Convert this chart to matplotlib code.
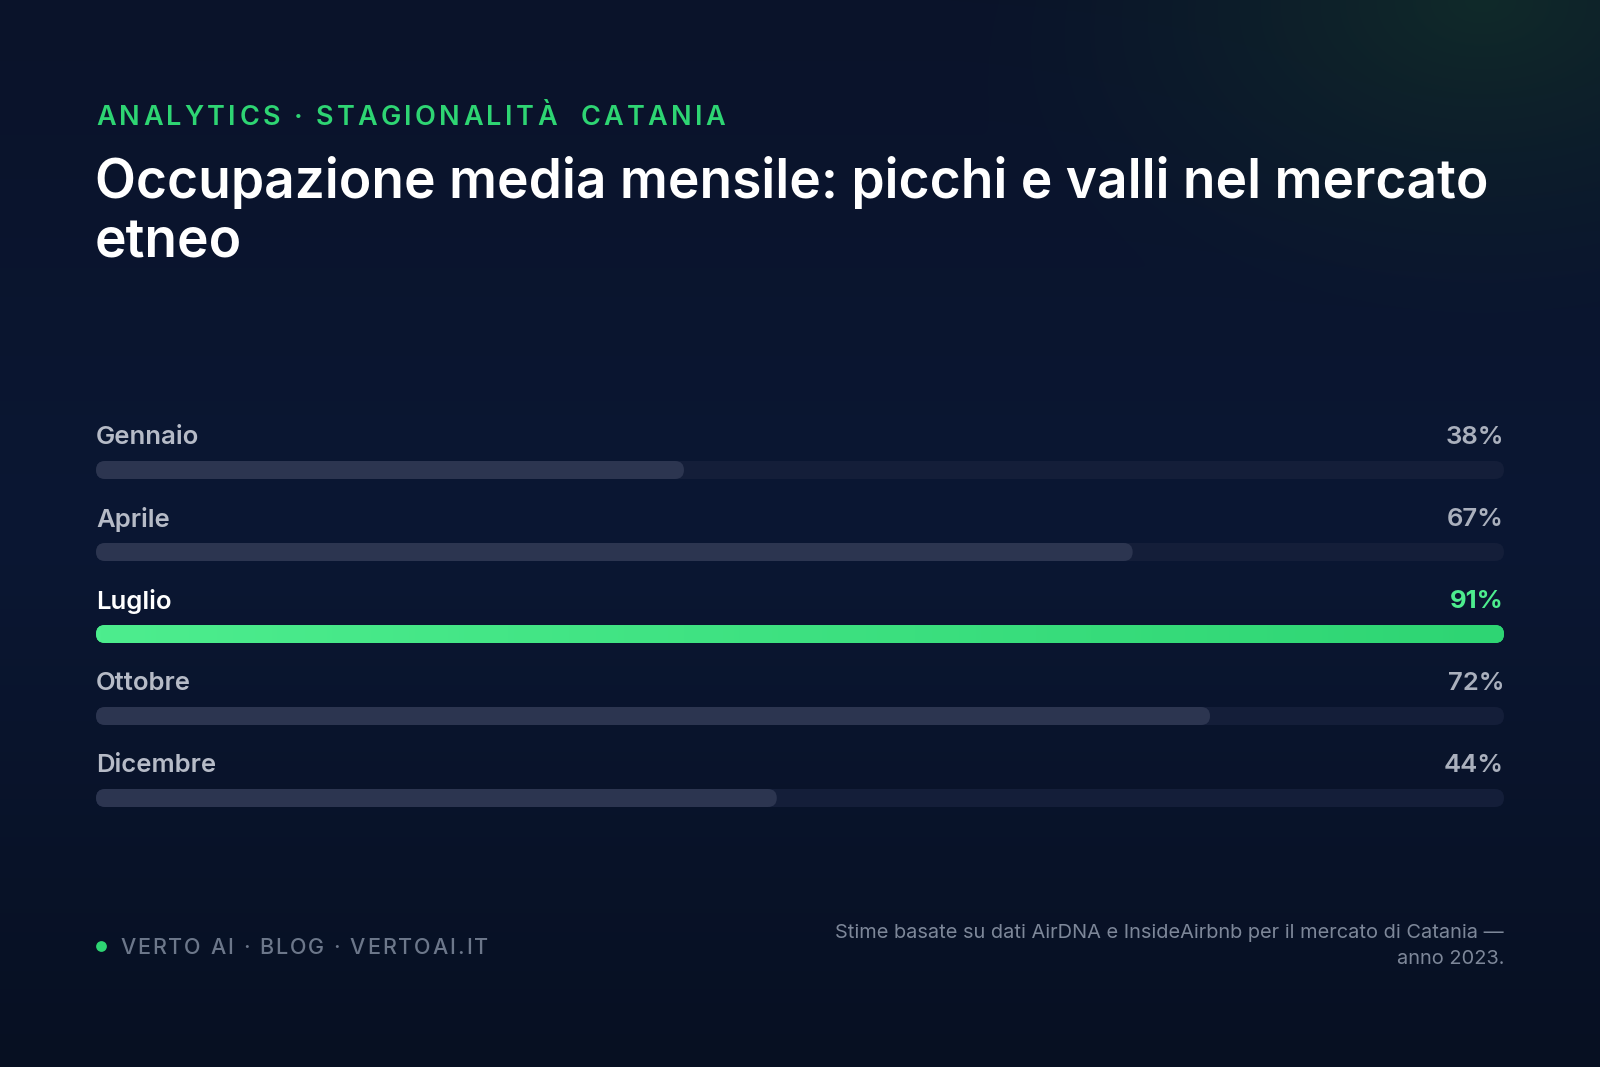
import numpy as np
import matplotlib
matplotlib.use("Agg")
import matplotlib.pyplot as plt
from matplotlib.patches import FancyBboxPatch
from matplotlib.font_manager import FontProperties

# ---- data ----
months = ["Gennaio", "Aprile", "Luglio", "Ottobre", "Dicembre"]
occupancy = [38, 67, 91, 72, 44]
value_labels = ["38%", "67%", "91%", "72%", "44%"]
highlight = "Luglio"

kicker = "ANALYTICS · STAGIONALITÀ  CATANIA"
title_lines = ["Occupazione media mensile: picchi e valli nel mercato", "etneo"]
footer_left = "VERTO AI · BLOG · VERTOAI.IT"
footer_right = ["Stime basate su dati AirDNA e InsideAirbnb per il mercato di Catania —",
                "anno 2023."]

W, H = 1600, 1067
FONT = "Inter"
GREEN = "#2ed573"
GREEN_L = "#4ded8e"

fig = plt.figure(figsize=(W / 100, H / 100), dpi=100)
fig.patch.set_facecolor("#0a1530")

bg = fig.add_axes([0, 0, 1, 1])
bg.set_xlim(0, W)
bg.set_ylim(H, 0)
bg.axis("off")

top = np.array([0x0a, 0x13, 0x2a]) / 255
mid = np.array([0x0b, 0x17, 0x33]) / 255
bot = np.array([0x07, 0x10, 0x22]) / 255
ys = np.linspace(0, 1, 300)[:, None]
grad = np.where(ys < 0.5, top + (mid - top) * (ys / 0.5), mid + (bot - mid) * ((ys - 0.5) / 0.5))
yy, xx = np.mgrid[0:300, 0:400]
px = xx / 400 * W
py = yy / 300 * H
base = np.repeat(grad[:, None, :], 400, axis=1).reshape(300, 400, 3)
d = np.sqrt(((px - 1480) / 540) ** 2 + ((py - 0) / 340) ** 2)
glow = np.clip(1 - d, 0, 1) ** 1.4
glow_col = np.array([0x10, 0x2a, 0x29]) / 255
img = base * (1 - glow[..., None]) + glow_col * glow[..., None]
bg.imshow(img, extent=[0, W, H, 0], aspect="auto", zorder=0, interpolation="bicubic")

renderer = fig.canvas.get_renderer()


def tracked_text(ax, x, y, s, size, color, weight="normal", tracking=0.0, va="baseline"):
    prop = FontProperties(family=FONT, size=size, weight=weight)
    for i, ch in enumerate(s):
        if ch == " ":
            continue
        w = renderer.get_text_width_height_descent(s[:i], prop, ismath=False)[0] if i > 0 else 0
        ax.text(x + w + i * tracking, y, ch, fontproperties=prop, color=color, va=va, ha="left")


# kicker
tracked_text(bg, 96, 125, kicker, 19.5, GREEN, weight="semibold", tracking=3.3)

# title
for i, line in enumerate(title_lines):
    bg.text(95, 198 + i * 60, line, fontsize=38.4, fontweight="semibold", family=FONT,
            color="white", va="baseline", ha="left")

# ---- bars ----
L, R = 96, 1504
row0, step = 470, 82
ax_top, ax_bot = 380, 840
ax = fig.add_axes([L / W, 1 - ax_bot / H, (R - L) / W, (ax_bot - ax_top) / H])
ax.axis("off")
vmax = max(occupancy)
ax.set_xlim(0, vmax)
ax.set_ylim((ax_bot - row0) / step, (ax_top - row0) / step)

px_x = (R - L) / vmax
px_y = step
bar_h_px = 18
bh = bar_h_px / px_y
rad = (bar_h_px / 2) / px_x
aspect = px_x / px_y

for i, (m, v, lab) in enumerate(zip(months, occupancy, value_labels)):
    track = FancyBboxPatch((0, i - bh / 2), vmax, bh,
                           boxstyle=f"round,pad=0,rounding_size={rad}",
                           mutation_aspect=aspect, fc="#141e39", ec="none", zorder=1)
    ax.add_patch(track)
    hi = (m == highlight)
    bar = FancyBboxPatch((0, i - bh / 2), v, bh,
                         boxstyle=f"round,pad=0,rounding_size={rad}",
                         mutation_aspect=aspect, fc=GREEN if hi else "#2c3550", ec="none", zorder=2)
    ax.add_patch(bar)
    if hi:
        g = np.linspace(0, 1, 256)[None, :, None]
        c0 = np.array([0x4d, 0xed, 0x8e]) / 255
        c1 = np.array([0x2e, 0xd5, 0x73]) / 255
        gim = c0 + (c1 - c0) * g
        im = ax.imshow(gim, extent=[0, v, i + bh / 2, i - bh / 2], aspect="auto", zorder=3)
        im.set_clip_path(bar)
    ty = i - 32 / px_y
    ax.text(0, ty, m, fontsize=18.5, family=FONT, fontweight="semibold",
            color="white" if hi else "#b6bbc7", va="center", ha="left")
    ax.text(vmax, ty, lab, fontsize=18.5, family=FONT, fontweight="bold" if hi else "semibold",
            color=GREEN_L if hi else "#aab0bd", va="center", ha="right")

# ---- footer ----
bg.scatter([101], [946], s=60, color=GREEN, zorder=5, linewidths=0)
tracked_text(bg, 120, 954, footer_left, 15.5, "#6c778a", weight="medium", tracking=1.95)
for i, line in enumerate(footer_right):
    bg.text(1504, 938 + i * 26, line, fontsize=14.4, family=FONT, color="#7d8799",
            va="baseline", ha="right")

fig.savefig("out.png", dpi=100, facecolor=fig.get_facecolor())
